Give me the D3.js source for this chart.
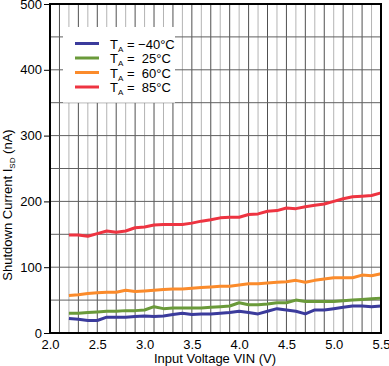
<!DOCTYPE html>
<html>
<head>
<meta charset="utf-8">
<script src="https://cdn.jsdelivr.net/npm/d3@7"></script>
<style>
  body { margin: 0; background: #fff; }
  text { font-family: "Liberation Sans", Arial, sans-serif; fill: #000; }
</style>
</head>
<body>
<div id="chart"></div>
<script>
// input voltage, 2.2 .. 5.5 V
const vin = [2.2, 2.3, 2.4, 2.5, 2.6, 2.7, 2.8, 2.9, 3.0, 3.1, 3.2, 3.3, 3.4, 3.5, 3.6, 3.7, 3.8,
             3.9, 4.0, 4.1, 4.2, 4.3, 4.4, 4.5, 4.6, 4.7, 4.8, 4.9, 5.0, 5.1, 5.2, 5.3, 5.4, 5.5]

const iM40 = [22, 21, 19, 19, 24, 24, 24, 25, 26, 25, 26, 28, 30, 28, 29, 29, 30,
              31, 33, 31, 29, 33, 37, 35, 33, 29, 35, 35, 37, 39, 41, 41, 40, 41]
const i25  = [30, 30, 31, 32, 33, 33, 34, 34, 35, 40, 37, 38, 38, 38, 38, 39, 40,
              41, 46, 43, 43, 44, 46, 46, 50, 48, 48, 48, 48, 49, 50, 51, 52, 53]
const i60  = [57, 58, 60, 61, 62, 62, 65, 63, 64, 65, 66, 67, 67, 68, 69, 70, 71,
              71, 73, 75, 75, 76, 77, 78, 80, 77, 80, 82, 84, 84, 84, 88, 87, 90]
const i85  = [149, 149, 147, 151, 155, 153, 155, 160, 161, 164, 165, 165, 165, 167, 170, 172, 175,
              176, 176, 180, 181, 185, 186, 190, 189, 192, 194, 196, 200, 204, 207, 208, 209, 213]

const seriesNames = ["\u221240\u00B0C", " 25\u00B0C", " 60\u00B0C", " 85\u00B0C"]
const seriesColors = ["#3b3b9c", "#6a9a3a", "#fb8b2b", "#ee3441"]
const seriesData = [iM40, i25, i60, i85]

const xTicks = [2.0, 2.5, 3.0, 3.5, 4.0, 4.5, 5.0, 5.5]
const yTicks = [0, 100, 200, 300, 400, 500]

const W = 389, H = 366
const m = {left: 50, right: 8, top: 4, bottom: 33}

let svg = d3.select("#chart").append("svg")
    .attr("width", W)
    .attr("height", H)

let x = d3.scaleLinear().domain([2.0, 5.5]).range([m.left, W - m.right])
let y = d3.scaleLinear().domain([0, 500]).range([H - m.bottom, m.top])

// vertical grid every 0.1 V
let vGrid = d3.range(21, 55).map(d => d / 10)
svg.append("g").selectAll("line")
    .data(vGrid)
    .enter()
    .append("line")
    .attr("x1", d => x(d)).attr("x2", d => x(d))
    .attr("y1", y(500)).attr("y2", y(0))
    .attr("stroke", (d, i) => i % 2 ? "#b4b4b4" : "#505050")
    .attr("stroke-width", 1)

// horizontal grid every 50
svg.append("g").selectAll("line")
    .data(d3.range(50, 500, 50))
    .enter()
    .append("line")
    .attr("x1", x(2.0)).attr("x2", x(5.5))
    .attr("y1", d => y(d)).attr("y2", d => y(d))
    .attr("stroke", "#606060")
    .attr("stroke-width", 1)

// legend box (white, hides the grid)
svg.append("rect")
    .attr("x", 63).attr("y", 27)
    .attr("width", 112).attr("height", y(350) - 27)
    .attr("fill", "#fff")

// curves
let line = d3.line()
    .x((d, i) => x(vin[i]))
    .y(d => y(d))

seriesData.forEach((s, k) => {
    svg.append("path")
        .datum(s)
        .attr("d", line)
        .attr("fill", "none")
        .attr("stroke", seriesColors[k])
        .attr("stroke-width", 3)
        .attr("stroke-linejoin", "round")
})

// frame
svg.append("rect")
    .attr("x", x(2.0)).attr("y", y(500))
    .attr("width", x(5.5) - x(2.0)).attr("height", y(0) - y(500))
    .attr("fill", "none")
    .attr("stroke", "#000")
    .attr("stroke-width", 2)

// y axis
let yAxis = svg.append("g")
    .attr("transform", "translate(" + x(2.0) + ",0)")
    .call(d3.axisLeft(y).tickValues(yTicks).tickSize(6).tickPadding(2))
yAxis.select(".domain").remove()
yAxis.selectAll("text").style("font-size", "13px").style("font-family", "Liberation Sans, Arial, sans-serif")

// x axis
let xAxis = svg.append("g")
    .attr("transform", "translate(0," + y(0) + ")")
    .call(d3.axisBottom(x).tickValues(xTicks).tickFormat(d3.format(".1f")).tickSize(0).tickPadding(7))
xAxis.select(".domain").remove()
xAxis.selectAll("text").style("font-size", "13px").style("font-family", "Liberation Sans, Arial, sans-serif")

svg.append("text")
    .attr("x", 215).attr("y", 363)
    .attr("text-anchor", "middle")
    .style("font-size", "13px")
    .text("Input Voltage VIN (V)")

let yt = svg.append("text")
    .attr("transform", "translate(12,205) rotate(-90)")
    .attr("text-anchor", "middle")
    .style("font-size", "13px")
yt.append("tspan").text("Shutdown Current I")
yt.append("tspan").attr("dy", 3).style("font-size", "8px").text("SD")
yt.append("tspan").attr("dy", -3).text(" (nA)")

// legend
seriesNames.forEach((n, k) => {
    let ly = 43.5 + k * 14.5
    svg.append("line")
        .attr("x1", 75).attr("x2", 99)
        .attr("y1", ly).attr("y2", ly)
        .attr("stroke", seriesColors[k])
        .attr("stroke-width", 3)
    let t = svg.append("text")
        .attr("x", 110).attr("y", ly + 5)
        .style("font-size", "13px")
        .attr("xml:space", "preserve")
    t.append("tspan").text("T")
    t.append("tspan").attr("dy", 3).style("font-size", "8px").text("A")
    t.append("tspan").attr("dy", -3).text(" = " + n)
})
</script>
</body>
</html>
